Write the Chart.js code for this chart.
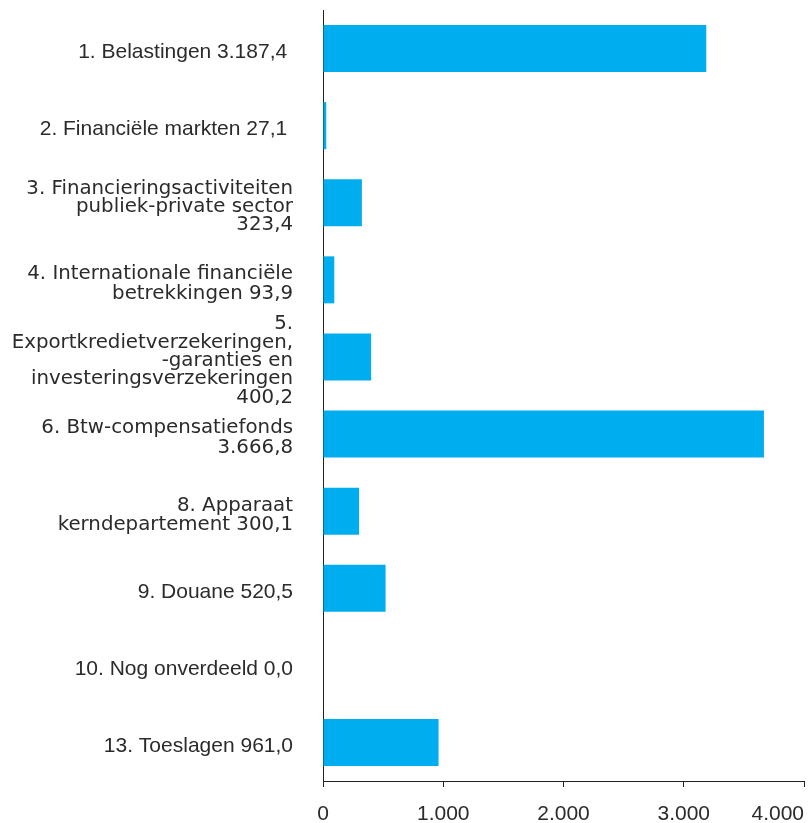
<!DOCTYPE html>
<html>
<head>
<meta charset="utf-8">
<script src="https://cdn.jsdelivr.net/npm/chart.js@4.4.1/dist/chart.umd.min.js"></script>
<style>
  body { margin: 0; background: #fff; }
  #wrap { width: 808px; height: 823px; position: relative; }
</style>
</head>
<body>
<div id="wrap"><canvas id="myChart"></canvas></div>
<script>
// category labels, one entry per line
const categories = [
    ["1. Belastingen 3.187,4 "],
    ["2. Financiële markten 27,1 "],
    ["3. Financieringsactiviteiten", "publiek-private sector", "323,4"],
    ["4. Internationale financiële", "betrekkingen 93,9"],
    ["5.", "Exportkredietverzekeringen,", "-garanties en", "investeringsverzekeringen", "400,2"],
    ["6. Btw-compensatiefonds", "3.666,8"],
    ["8. Apparaat", "kerndepartement 300,1"],
    ["9. Douane 520,5"],
    ["10. Nog onverdeeld 0,0"],
    ["13. Toeslagen 961,0"]
];
const amounts = [3187.4, 27.1, 323.4, 93.9, 400.2, 3666.8, 300.1, 520.5, 0.0, 961.0];
const xTicks = [0, 1000, 2000, 3000, 4000];
const xTickLabels = ["0", "1.000", "2.000", "3.000", "4.000"];

const textColor = "#2b2b2b";
const axisColor = "#222";
const tickFont = { family: "Liberation Sans", size: 21 };

function labelFont(ctx) {
    const lines = categories[ctx.index] || [""];
    if (lines.length == 1) return { family: "Liberation Sans", size: 21 };
    if (lines.length == 2) return { family: "DejaVu Sans", size: 19.8, lineHeight: "19.5px" };
    return { family: "DejaVu Sans", size: 19.8, lineHeight: "18.3px" };
}

// x tick labels: centred under the tick, but the last one is kept inside the canvas
const xLabelsPlugin = {
    id: "xLabels",
    afterDraw(chart) {
        const s = chart.scales.x;
        const ctx = chart.ctx;
        ctx.save();
        ctx.font = Chart.helpers.toFont(tickFont).string;
        ctx.fillStyle = textColor;
        ctx.textAlign = "center";
        ctx.textBaseline = "top";
        xTicks.forEach((v, i) => {
            const w = ctx.measureText(xTickLabels[i]).width;
            let x = s.getPixelForValue(v);
            x = Math.min(x, chart.chartArea.right - w / 2);
            ctx.fillText(xTickLabels[i], x, s.top + 6 + 17);
        });
        ctx.restore();
    }
};

const data = {
    labels: categories,
    datasets: [{
        data: amounts,
        backgroundColor: "#00AEEF",
        borderWidth: 0,
        barPercentage: 0.61,
        categoryPercentage: 1
    }]
};

const config = {
    type: "bar",
    data: data,
    plugins: [xLabelsPlugin],
    options: {
        indexAxis: "y",
        responsive: true,
        maintainAspectRatio: false,
        animation: false,
        layout: { padding: { top: 10, right: 4, left: 0, bottom: 0 } },
        plugins: {
            legend: { display: false },
            tooltip: { enabled: false }
        },
        scales: {
            y: {
                grid: { display: false, drawTicks: false },
                border: { display: true, color: axisColor, width: 1 },
                ticks: {
                    color: textColor,
                    padding: 30,
                    labelOffset: 4,
                    autoSkip: false,
                    font: labelFont
                },
                afterFit: (s) => { s.width = 323; s.paddingTop = 0; s.paddingBottom = 0; }
            },
            x: {
                min: 0,
                max: 4000,
                grid: {
                    drawOnChartArea: false,
                    drawTicks: true,
                    tickLength: 6,
                    color: axisColor
                },
                border: { display: true, color: axisColor, width: 1 },
                afterBuildTicks: (s) => { s.ticks = xTicks.map(v => ({ value: v })); },
                ticks: {
                    color: "rgba(0,0,0,0)",
                    maxRotation: 0,
                    autoSkip: false,
                    font: tickFont,
                    callback: (v) => xTickLabels[xTicks.indexOf(v)]
                },
                afterFit: (s) => { s.height = 42; s.paddingLeft = 0; s.paddingRight = 0; }
            }
        }
    }
};

const myChart = new Chart(document.getElementById("myChart"), config);
</script>
</body>
</html>
